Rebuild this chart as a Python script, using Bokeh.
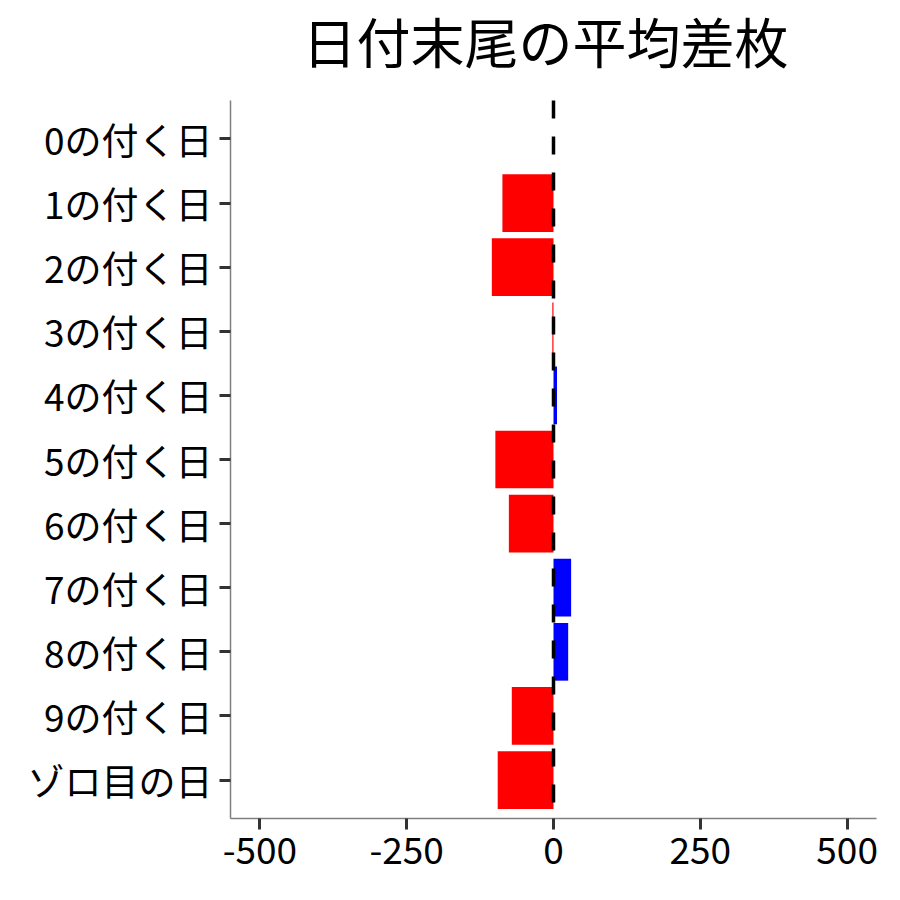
from bokeh.plotting import figure
from bokeh.models import Range1d, FixedTicker, ColumnDataSource, Label
from bokeh.embed import file_html
from bokeh.resources import INLINE

title_text = "日付末尾の平均差枚"
categories = ["0の付く日", "1の付く日", "2の付く日", "3の付く日", "4の付く日",
              "5の付く日", "6の付く日", "7の付く日", "8の付く日", "9の付く日", "ゾロ目の日"]
values = [0, -87, -105, -2, 6, -99, -76, 30, 25, -71, -95]
x_ticks = [-500, -250, 0, 250, 500]
x_tick_labels = ["-500", "-250", "0", "250", "500"]

FONT = "Noto Sans CJK JP"

pos = list(range(len(categories)))
colors = ["#0000FF" if v > 0 else "#FF0000" for v in values]
src = ColumnDataSource(dict(y=pos, right=values, color=colors))

# layout (pixels): panel top at 100, panel bottom at 818, title area above panel kept inside the frame
W = H = 884
panel_top_px, panel_bottom_px = 100, 818
title_px = 40
y_top = -0.6
y_bottom = len(categories) - 0.4
px_per_unit = (panel_bottom_px - panel_top_px) / (y_bottom - y_top)
y_end = y_top - panel_top_px / px_per_unit
title_y = y_top - (panel_top_px - title_px) / px_per_unit

p = figure(width=W, height=H, output_backend="svg", toolbar_location=None,
           x_range=Range1d(-550, 550), y_range=Range1d(y_bottom, y_end),
           min_border_left=230, min_border_right=8, min_border_top=0,
           min_border_bottom=H - panel_bottom_px)

p.hbar(y="y", left=0, right="right", height=0.9, color="color", line_color=None, source=src)

p.segment(x0=[0], y0=[y_top], x1=[0], y1=[y_bottom], line_color="black",
          line_width=3.5, line_dash="18 18")

p.add_layout(Label(x=0, y=title_y, text=title_text, text_align="center",
                   text_baseline="alphabetic", x_offset=-8,
                   text_font=FONT, text_font_size="54px", text_color="black"))

p.xgrid.visible = False
p.ygrid.visible = False
p.outline_line_color = None
p.background_fill_color = "white"
p.border_fill_color = "white"

for ax in (p.xaxis, p.yaxis):
    ax.axis_line_color = "#7f7f7f"
    ax.axis_line_width = 1.5
    ax.major_tick_line_color = "#333333"
    ax.major_tick_line_width = 3
    ax.major_tick_in = 0
    ax.major_tick_out = 11
    ax.minor_tick_line_color = None
    ax.major_label_text_font = FONT
    ax.major_label_text_font_size = "37px"
    ax.major_label_text_color = "black"

p.xaxis.ticker = FixedTicker(ticks=x_ticks)
p.xaxis.major_label_overrides = dict(zip(x_ticks, x_tick_labels))
p.xaxis.major_label_standoff = 7
p.yaxis.ticker = FixedTicker(ticks=pos)
p.yaxis.bounds = (y_top, y_bottom)
p.yaxis.major_label_overrides = {i: c for i, c in enumerate(categories)}
p.yaxis.major_label_standoff = 7

open("out.html", "w").write(file_html(p, INLINE))
